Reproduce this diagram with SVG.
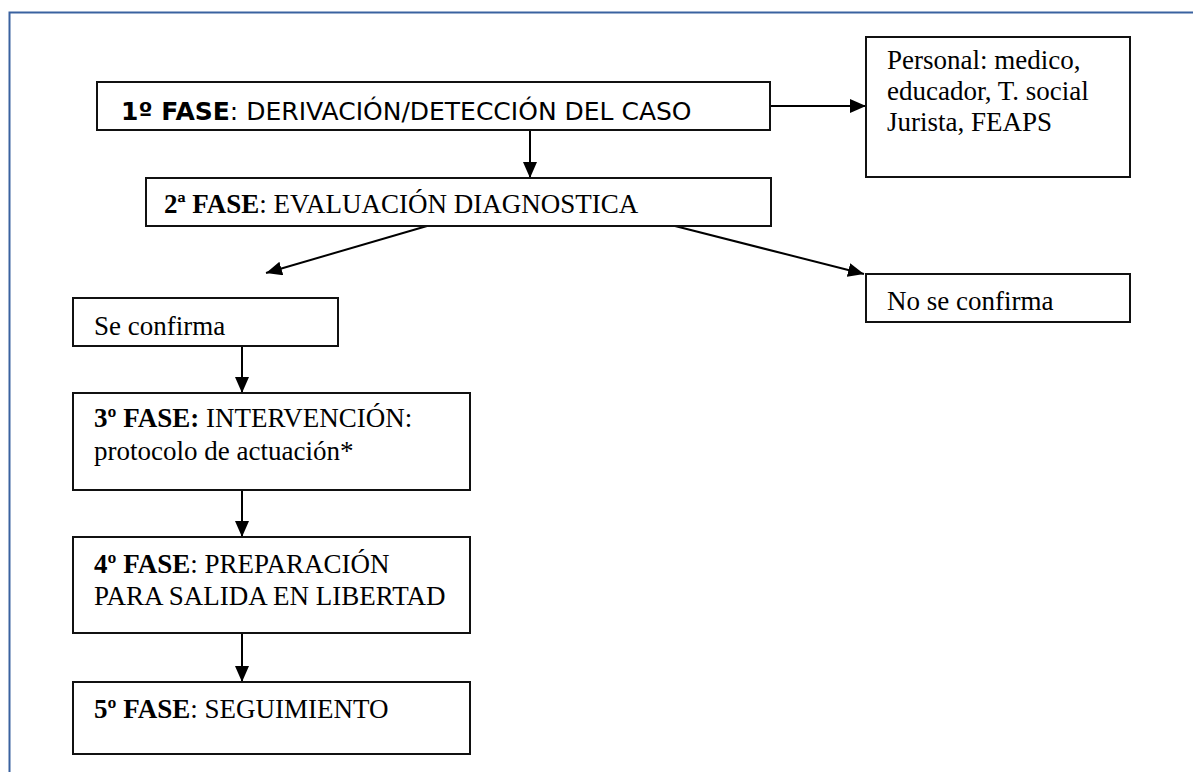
<svg xmlns="http://www.w3.org/2000/svg" width="1193" height="772" viewBox="0 0 1193 772">
<defs>
<style>
.box{fill:#fff;stroke:#111;stroke-width:2}
.t{font-family:"Liberation Serif","Times New Roman",serif;font-size:27px;fill:#000}
.s{font-family:"DejaVu Sans",Verdana,sans-serif;font-size:25px;fill:#000}
.b{font-weight:bold}
.c{stroke:#000;stroke-width:2;fill:none;marker-end:url(#ah)}
</style>
<marker id="ah" markerUnits="userSpaceOnUse" markerWidth="16" markerHeight="14" viewBox="0 0 16 14" refX="16" refY="7" orient="auto">
<path d="M0,0 L16,7 L0,14 Z" fill="#000"/>
</marker>
</defs>
<rect x="0" y="0" width="1193" height="772" fill="#fff"/>
<path d="M9.5,772 V12.5 H1193" fill="none" stroke="#3a62a0" stroke-width="2"/>
<g id="connectors">
<line class="c" x1="770" y1="106" x2="866" y2="106"/>
<line class="c" x1="530" y1="130" x2="530" y2="178"/>
<line class="c" x1="427" y1="226" x2="266" y2="273"/>
<line class="c" x1="675" y1="226" x2="864" y2="274"/>
<line class="c" x1="242" y1="346" x2="242" y2="393"/>
<line class="c" x1="242" y1="490" x2="242" y2="537"/>
<line class="c" x1="242" y1="633" x2="242" y2="682"/>
</g>
<g id="n1"><rect class="box" x="97" y="82" width="673" height="48"/>
<text class="s" x="121" y="120"><tspan class="b">1º FASE</tspan>: DERIVACIÓN/DETECCIÓN DEL CASO</text></g>
<g id="n-personal"><rect class="box" x="866" y="37" width="264" height="140"/>
<text class="t" x="887" y="69">Personal: medico,</text>
<text class="t" x="887" y="100">educador, T. social</text>
<text class="t" x="887" y="131">Jurista, FEAPS</text></g>
<g id="n2"><rect class="box" x="146" y="178" width="625" height="48"/>
<text class="t" x="164" y="213"><tspan class="b">2ª FASE</tspan>: EVALUACIÓN DIAGNOSTICA</text></g>
<g id="n-no"><rect class="box" x="866" y="274" width="264" height="48"/>
<text class="t" x="887" y="310">No se confirma</text></g>
<g id="n-si"><rect class="box" x="73" y="298" width="265" height="48"/>
<text class="t" x="94" y="335">Se confirma</text></g>
<g id="n3"><rect class="box" x="73" y="393" width="397" height="97"/>
<text class="t" x="94" y="427"><tspan class="b">3º FASE:</tspan> INTERVENCIÓN:</text>
<text class="t" x="94" y="460">protocolo de actuación*</text></g>
<g id="n4"><rect class="box" x="73" y="537" width="397" height="96"/>
<text class="t" x="94" y="573"><tspan class="b">4º FASE</tspan>: PREPARACIÓN</text>
<text class="t" x="94" y="605">PARA SALIDA EN LIBERTAD</text></g>
<g id="n5"><rect class="box" x="73" y="682" width="397" height="72"/>
<text class="t" x="94" y="718"><tspan class="b">5º FASE</tspan>: SEGUIMIENTO</text></g>
</svg>
